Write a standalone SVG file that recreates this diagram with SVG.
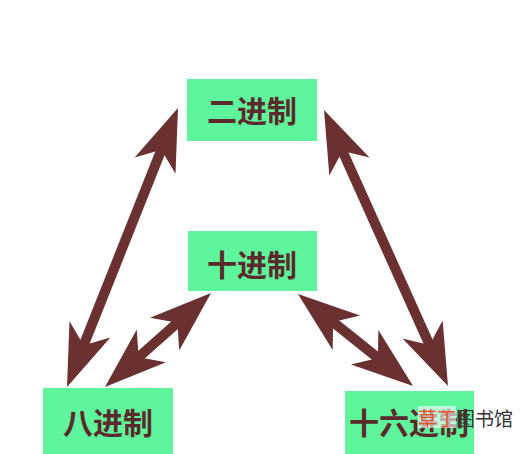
<svg xmlns="http://www.w3.org/2000/svg" width="520" height="454" viewBox="0 0 520 454">
<style>
.box{fill:#5ff59d;}
.lbl{font-family:"Noto Sans CJK SC",sans-serif;font-weight:bold;font-size:30px;fill:#5b2b2b;text-anchor:middle;dominant-baseline:central;}
.conn line{stroke:#6b3030;stroke-width:10;marker-start:url(#head);marker-end:url(#head);}
.wm{font-family:"Noto Sans CJK SC",sans-serif;font-size:19px;dominant-baseline:central;}
</style>
<defs>
<marker id="head" markerUnits="userSpaceOnUse" viewBox="-64 -24 66 48" markerWidth="66" markerHeight="48" refX="-40" refY="0" orient="auto-start-reverse">
<path d="M0,0 L-62,-22 L-45,0 L-62,22 Z" fill="#6b3030"/>
</marker>
</defs>
<rect width="520" height="454" fill="#ffffff"/>
<g id="conn" class="conn">
<line x1="81.8" y1="349.8" x2="163.2" y2="145.2"/>
<line x1="134.9" y1="360.5" x2="181.1" y2="319.5"/>
<line x1="340.4" y1="146.5" x2="431.6" y2="349.5"/>
<line x1="329.2" y1="319" x2="381.8" y2="361"/>
</g>
<g id="binary">
<rect class="box" x="187" y="79" width="130" height="62"/>
<text class="lbl" x="252" y="109">二进制</text>
</g>
<g id="decimal">
<rect class="box" x="188" y="231" width="129" height="60"/>
<text class="lbl" x="252" y="263">十进制</text>
</g>
<g id="octal">
<rect class="box" x="43" y="388" width="130" height="66"/>
<text class="lbl" x="108" y="421">八进制</text>
</g>
<g id="hex">
<rect class="box" x="345" y="391" width="129" height="63"/>
<text class="lbl" x="409" y="421">十六进制</text>
</g>
<g id="watermark">
<rect x="418" y="406" width="38" height="22" fill="#ffffff" opacity="0.6"/>
<text class="wm" x="418" y="417"><tspan fill="#e8542a">草丁</tspan><tspan fill="#333333">图书馆</tspan></text>
</g>
</svg>
